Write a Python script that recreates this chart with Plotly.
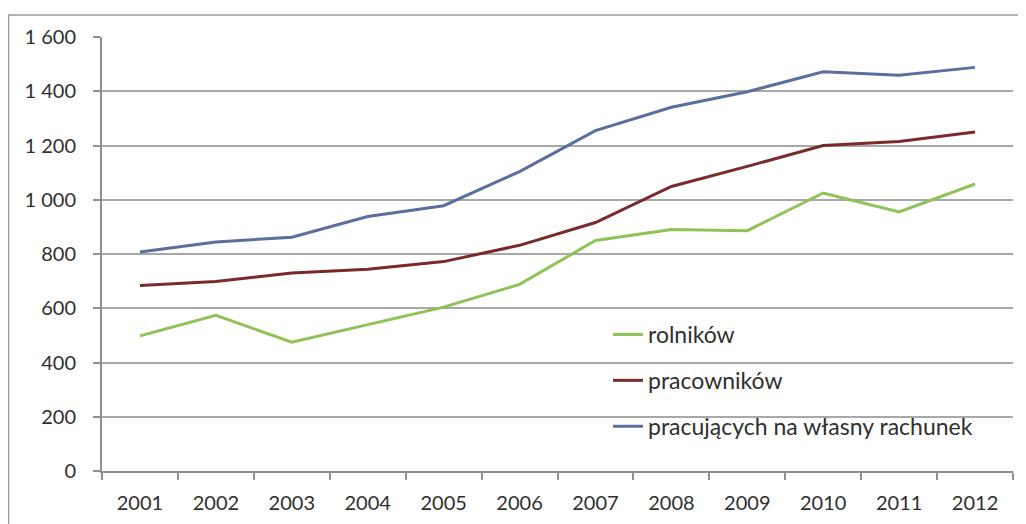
import plotly.graph_objects as go

years = ["2001", "2002", "2003", "2004", "2005", "2006", "2007", "2008", "2009", "2010", "2011", "2012"]
rolnikow = [498, 574, 475, 539, 604, 688, 850, 890, 886, 1025, 955, 1058]
pracownikow = [684, 699, 730, 744, 772, 832, 916, 1049, 1123, 1200, 1215, 1250]
wlasny = [807, 844, 862, 938, 978, 1104, 1255, 1341, 1398, 1472, 1459, 1488]

names = ["rolników", "pracowników", "pracujących na własny rachunek"]
colors = ["#8fc257", "#7a2a2b", "#5b6e9e"]
series = [rolnikow, pracownikow, wlasny]

OFF = 8  # page body margin
W, H = 1018, 516
L, T = 102 - OFF, 37 - OFF
pw, ph = 911, 434
R, B = W - L - pw, H - T - ph

def px_x(p):
    return (p - OFF - L) / pw

def px_y(p):
    return (T + ph - (p - OFF)) / ph

fig = go.Figure()
for i, (n, c, s) in enumerate(zip(names, colors, series)):
    fig.add_trace(go.Scatter(x=years, y=s, name=n, mode="lines",
                             line=dict(color=c, width=3), legendgroup=str(i)))

font_col = "#2f2f2f"
fam = "Lato, Open Sans, sans-serif"
fig.update_layout(
    width=W, height=H,
    margin=dict(l=L, r=R, t=T, b=B, autoexpand=False),
    paper_bgcolor="white", plot_bgcolor="white",
    separators=", ",
    font=dict(family=fam, color=font_col, size=20),
    showlegend=True,
    legend=dict(x=px_x(608), y=px_y(313), xanchor="left", yanchor="top",
                bgcolor="rgba(0,0,0,0)", font=dict(size=23, color=font_col, family=fam),
                traceorder="grouped", tracegroupgap=13),
    xaxis=dict(type="category", showgrid=False, showline=True, linecolor="#8f8f8f",
               linewidth=2, ticks="outside", tickson="boundaries", ticklen=7,
               tickcolor="#8f8f8f", tickwidth=2, tickfont=dict(size=20, color=font_col),
               ticklabelstandoff=13, range=[-0.5, 11.5], fixedrange=True,
               automargin=False),
    yaxis=dict(range=[0, 1600], dtick=200, tickformat=",d", showgrid=True,
               gridcolor="#a8a8a8", gridwidth=2, showline=True, linecolor="#8f8f8f",
               linewidth=2, ticks="outside", ticklen=7, tickcolor="#8f8f8f", tickwidth=2,
               tickfont=dict(size=20, color=font_col), ticklabelstandoff=13,
               zeroline=False, fixedrange=True, automargin=False),
)

# white legend box covering gridlines
fig.add_shape(type="rect", xref="x domain", yref="y domain",
              x0=px_x(551), x1=px_x(1011), y0=px_y(466), y1=px_y(316),
              fillcolor="white", line=dict(width=0), layer="below")
# outer chart frame
fig.add_shape(type="rect", xref="paper", yref="paper",
              x0=px_x(8.5), x1=px_x(1023), y0=px_y(560), y1=px_y(15),
              line=dict(color="#9a9a9a", width=1.5), fillcolor="rgba(0,0,0,0)")

fig.write_html("out.html")
